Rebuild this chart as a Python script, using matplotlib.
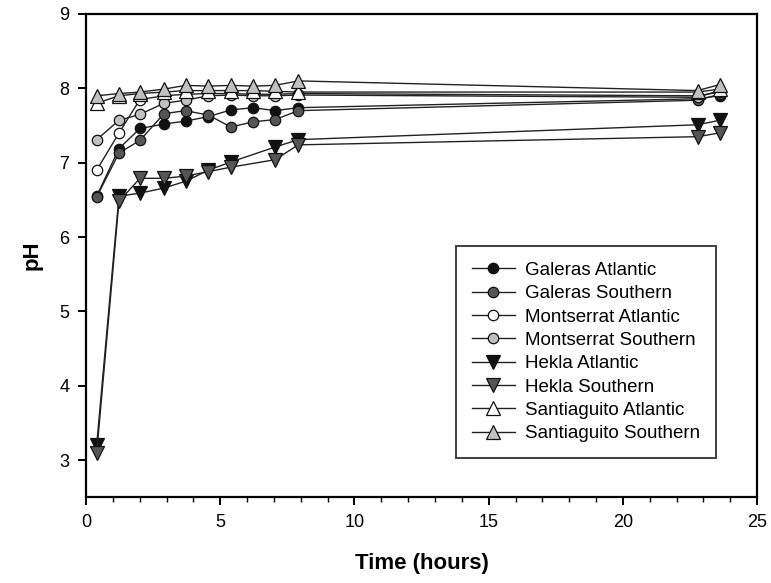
import matplotlib
matplotlib.use("Agg")
import matplotlib.pyplot as plt
from matplotlib.ticker import MultipleLocator

plt.rcParams['font.family'] = ['Liberation Sans', 'DejaVu Sans']

# Sampling times (hours)
t_main = [0.4, 1.23, 2.01, 2.91, 3.71, 4.56, 5.40, 6.23, 7.04, 7.91, 22.78, 23.6]
t_hekla = [0.4, 1.23, 2.01, 2.91, 3.71, 4.56, 5.40, 7.04, 7.91, 22.78, 23.6]

# pH readings per ash / seawater combination
galeras_atl = [6.55, 7.19, 7.46, 7.52, 7.56, 7.62, 7.71, 7.74, 7.70, 7.74, 7.86, 7.90]
galeras_sth = [6.54, 7.13, 7.30, 7.66, 7.70, 7.64, 7.48, 7.55, 7.58, 7.70, 7.84, 7.92]
montserrat_atl = [6.90, 7.40, 7.85, 7.90, 7.92, 7.93, 7.93, 7.92, 7.92, 7.93, 7.90, 7.95]
montserrat_sth = [7.31, 7.57, 7.65, 7.80, 7.84, 7.90, 7.91, 7.90, 7.90, 7.91, 7.88, 7.97]
hekla_atl = [3.21, 6.55, 6.59, 6.66, 6.75, 6.90, 7.01, 7.21, 7.31, 7.51, 7.57]
hekla_sth = [3.10, 6.48, 6.79, 6.79, 6.82, 6.88, 6.94, 7.04, 7.24, 7.35, 7.40]
santiaguito_atl = [7.80, 7.90, 7.93, 7.95, 7.97, 7.97, 7.97, 7.97, 7.96, 7.95, 7.95, 7.99]
santiaguito_sth = [7.90, 7.93, 7.95, 7.99, 8.04, 8.03, 8.04, 8.03, 8.04, 8.10, 7.97, 8.05]

series = [
    ("Galeras Atlantic", t_main, galeras_atl, "o", "#111111"),
    ("Galeras Southern", t_main, galeras_sth, "o", "#555555"),
    ("Montserrat Atlantic", t_main, montserrat_atl, "o", "#ffffff"),
    ("Montserrat Southern", t_main, montserrat_sth, "o", "#c0c0c0"),
    ("Hekla Atlantic", t_hekla, hekla_atl, "v", "#111111"),
    ("Hekla Southern", t_hekla, hekla_sth, "v", "#555555"),
    ("Santiaguito Atlantic", t_main, santiaguito_atl, "^", "#ffffff"),
    ("Santiaguito Southern", t_main, santiaguito_sth, "^", "#c0c0c0"),
]

fig = plt.figure(figsize=(7.71, 5.83), dpi=100)
ax = fig.add_axes([0.1115, 0.147, 0.8705, 0.829])

for label, t, ph, mk, fc in series:
    ms = 7.5 if mk == "o" else 9.5
    ax.plot(t, ph, color="#222222", linewidth=1.0, marker=mk, markersize=ms,
            markerfacecolor=fc, markeredgecolor="#111111", markeredgewidth=0.9,
            label=label)

ax.set_xlim(0, 25)
ax.set_ylim(2.5, 9)
ax.xaxis.set_major_locator(MultipleLocator(5))
ax.xaxis.set_minor_locator(MultipleLocator(1))
ax.yaxis.set_major_locator(MultipleLocator(1))

for s in ax.spines.values():
    s.set_linewidth(1.6)
ax.tick_params(axis="both", which="major", direction="out", length=6, width=1.4,
               labelsize=13, pad=6)
ax.tick_params(axis="x", which="minor", direction="out", length=3.5, width=1.0)

ax.set_xlabel("Time (hours)", fontsize=16, fontweight="bold", labelpad=16)
ax.set_ylabel("pH", fontsize=16, fontweight="bold", labelpad=12)

leg = ax.legend(loc="upper left", bbox_to_anchor=(0.551, 0.52), fontsize=13.5,
                frameon=True, fancybox=False, handlelength=2.3,
                handletextpad=0.55, labelspacing=0.33, borderpad=0.85,
                borderaxespad=0)
leg.get_frame().set_edgecolor("#111111")
leg.get_frame().set_linewidth(1.4)

fig.savefig("out.png", dpi=100)
